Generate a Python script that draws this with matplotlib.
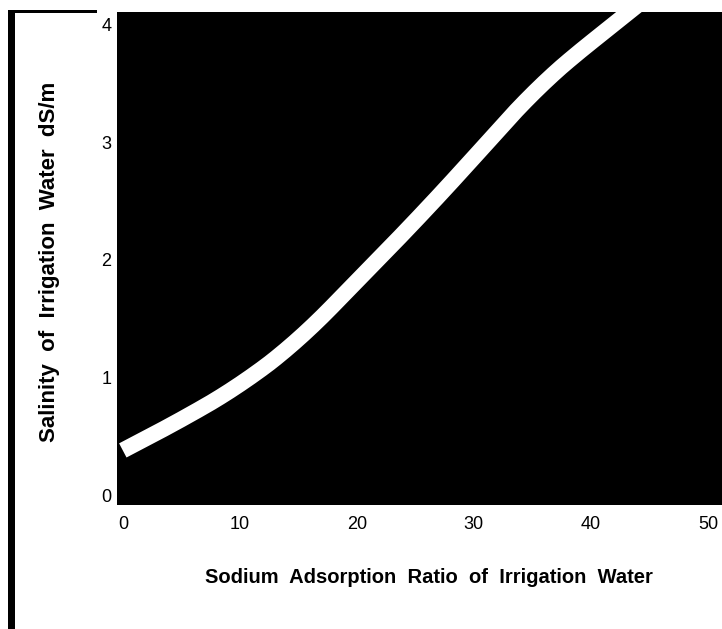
import numpy as np
import matplotlib
matplotlib.use("Agg")
import matplotlib.pyplot as plt
from matplotlib.patches import Rectangle

plt.rcParams['font.family'] = ['Liberation Sans', 'DejaVu Sans']

# centre line of the white band
sar = [0, 5, 10, 15, 20, 25, 30, 35, 40, 43, 45]
salinity = [0.38, 0.64, 0.93, 1.31, 1.82, 2.33, 2.87, 3.43, 3.86, 4.08, 4.25]

xticks = [0, 10, 20, 30, 40, 50]
yticks = [0, 1, 2, 3, 4]

fig = plt.figure(figsize=(7.22, 6.29), dpi=100)
ax = fig.add_axes([0.162, 0.197, 0.838, 0.784])
ax.set_facecolor('black')

# smooth the hand-read points a little for drawing
xs = np.linspace(sar[0], sar[-1], 400)
ys = np.interp(xs, sar, salinity)
k = 25
ys_s = np.convolve(np.pad(ys, k, mode='reflect', reflect_type='odd'),
                   np.ones(2*k+1)/(2*k+1), mode='valid')
ax.plot(xs, ys_s, color='white', lw=11.5, solid_capstyle='butt')

ax.set_xlim(-0.5, 51.2)
ax.set_ylim(-0.085, 4.11)
ax.set_xticks(xticks)
ax.set_yticks(yticks)
ax.tick_params(length=0, labelsize=13, pad=4)
ax.tick_params(axis='x', pad=8)
for s in ax.spines.values():
    s.set_visible(False)

ax.set_xlabel('Sodium  Adsorption  Ratio  of  Irrigation  Water',
              fontsize=14.5, fontweight='bold')
ax.set_ylabel('Salinity  of  Irrigation  Water  dS/m',
              fontsize=16, fontweight='bold')
ax.xaxis.set_label_coords(0.516, -0.146)
ax.xaxis.label.set_va('center')
ax.yaxis.set_label_coords(-0.111, 0.493)
ax.yaxis.label.set_va('center')

# scanned frame bits on the left edge
fig.add_artist(Rectangle((8/722, 0), 7/722, 1 - 10/629, transform=fig.transFigure,
                         color='black', lw=0))
fig.add_artist(Rectangle((10/722, 1 - 13/629), 87/722, 3/629, transform=fig.transFigure,
                         color='black', lw=0))

fig.savefig('out.png', dpi=100, facecolor='white')
